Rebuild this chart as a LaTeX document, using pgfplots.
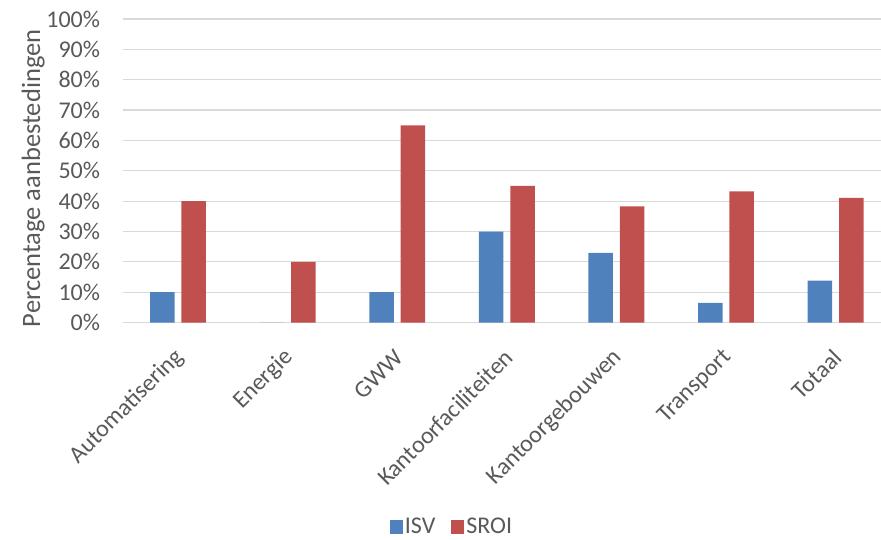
\documentclass[border=0pt]{standalone}
\usepackage{fontspec}
\setmainfont{Carlito}
\usepackage{pgfplots}
\pgfplotsset{compat=1.18}
\definecolor{isv}{HTML}{4F81BD}
\definecolor{sroi}{HTML}{C0504D}
\definecolor{txt}{HTML}{595959}
\definecolor{gridc}{HTML}{D9D9D9}
\begin{document}
\begin{tikzpicture}
\begin{axis}[
  at={(0,0)}, anchor=south west,
  scale only axis, width=757.8pt, height=303.6pt,
  xmin=-0.5, xmax=6.414, ymin=0, ymax=100,
  enlargelimits=false,
  ybar=6.9pt, bar width=24.5pt,
  axis line style={draw=none},
  major tick length=0pt,
  ymajorgrids, grid style={gridc, line width=1.2pt},
  ytick={0,10,...,100},
  yticklabels={0\%,10\%,20\%,30\%,40\%,50\%,60\%,70\%,80\%,90\%,100\%},
  xtick={0,...,6},
  xticklabels={Automatisering,Energie,GWW,Kantoorfaciliteiten,Kantoorgebouwen,Transport,Totaal},
  tick label style={font=\fontsize{24}{28}\selectfont, text=txt},
  yticklabel style={anchor=east, inner sep=0pt, xshift=-23pt},
  xticklabel style={yshift=-31pt, xshift=2pt, rotate=45, anchor=east, inner sep=0pt},
  ylabel={Percentage aanbestedingen},
  ylabel style={at={(axis description cs:-0.1188,0.475)}, anchor=center, font=\fontsize{26.5}{30}\selectfont, text=txt},
  legend style={at={(axis description cs:0.4339,-0.673)}, anchor=center, draw=none, fill=none,
    legend columns=2, font=\fontsize{24}{28}\selectfont, text=txt,
    /tikz/every even column/.append style={column sep=14pt}},
  /pgf/number format/assume math mode=true,
]
\addplot[fill=isv, draw=none, legend image code/.code={\fill[isv] (0pt,-7pt) rectangle (13pt,7pt);}]
  coordinates {(0,10) (1,0) (2,10) (3,30) (4,23) (5,6.5) (6,13.8)};
\addlegendentry{ISV}
\addplot[fill=sroi, draw=none, legend image code/.code={\fill[sroi] (0pt,-7pt) rectangle (13pt,7pt);}]
  coordinates {(0,40) (1,20) (2,65) (3,45) (4,38.3) (5,43.2) (6,41.1)};
\addlegendentry{SROI}
\end{axis}
\pgfresetboundingbox
\path[use as bounding box] (-123.2pt,-217.4pt) rectangle (757.8pt,322.6pt);
\end{tikzpicture}
\end{document}
